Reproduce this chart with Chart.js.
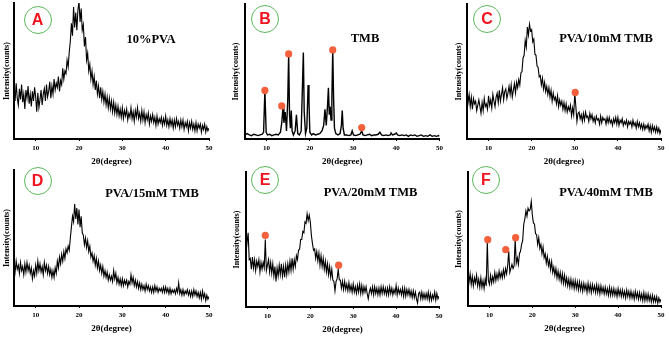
<!DOCTYPE html>
<html>
<head>
<meta charset="utf-8">
<script src="https://cdn.jsdelivr.net/npm/chart.js@4.4.0/dist/chart.umd.min.js"></script>
<style>
html, body { margin: 0; padding: 0; background: #fff; }
#fig { position: relative; width: 669px; height: 337px; overflow: hidden; background: #fff; }
.cell { position: absolute; }
.tag {
  position: absolute; box-sizing: border-box; width: 28px; height: 28px;
  border: 1.5px solid #5cb85c; border-radius: 50%;
  color: #f0141e; font: bold 16px 'Liberation Sans', Arial, sans-serif;
  text-align: center; line-height: 25px; transform: translate(-50%, -50%);
}
.name {
  position: absolute; white-space: nowrap; line-height: 1; color: #000;
  font: bold 12.5px 'Liberation Serif', 'Times New Roman', serif;
  transform: translate(-50%, -50%);
}
</style>
</head>
<body>
<div id="fig"></div>
<script>
'use strict'

// ************* Data ****************
// one group = one degree (x.00, x.25, x.50, x.75), from 5 to 50
let thetaStart = 5;
let thetaStep = 0.25;
let xTicks = [10, 20, 30, 40, 50];

// A - 10% PVA
let pvaCounts = [
  36,28,41,30, 25,37,29,40, 27,33,22,36, 30,39,26,33, 24,35,28,38,
  31,20,34,23, 29,36,25,33, 37,28,40,31, 35,42,30,39, 33,44,36,41,
  38,46,35,43, 40,52,44,50, 48,58,53,64, 72,85,76,97, 82,93,80,95,
  101,86,96,80, 84,68,75,58, 63,50,55,44, 50,40,46,36, 43,33,39,30,
  38,29,35,27, 33,25,31,23, 30,22,28,20, 27,19,25,18, 24,17,22,16,
  23,15,21,17, 22,14,19,16, 23,15,20,13, 21,16,23,15, 19,13,21,14,
  20,12,18,14, 19,11,17,13, 18,12,16,10, 17,11,15,12, 16,10,15,11,
  17,10,14,9, 15,10,14,8, 14,9,15,10, 13,8,14,9, 14,7,12,9,
  13,6,12,8, 13,7,11,6, 12,6,11,8, 11,5,10,7, 11,5,9,6,
  8];

// B - TMB (sharp peaks, own theta list)
let tmbTheta = [5,5.5,6,6.5,7,7.5,8,8.5,9,9.3,
  9.6,9.9,10.2,10.7,11.2,11.7,12.2,12.7,13.2,13.5,
  13.8,14.0,14.3,14.6,14.9,15.1,15.3,15.5,15.7,15.9,
  16.2,16.6,16.9,17.2,17.6,18.0,18.3,18.5,18.7,19.0,
  19.3,19.6,19.8,20.0,20.4,20.8,21.3,21.8,22.3,22.8,
  23.2,23.5,23.8,24.1,24.3,24.5,24.7,24.9,25.1,25.3,
  25.5,25.7,26.0,26.5,27.0,27.3,27.5,27.7,28.0,28.5,
  29.0,29.5,29.8,30.1,30.6,31.1,31.6,32.0,32.3,32.8,
  33.3,33.8,34.3,34.8,35.3,35.8,36.2,36.6,37.1,37.6,
  38.1,38.6,38.8,39.1,39.6,40.0,40.3,40.8,41.3,41.8,
  42.3,42.8,43.3,43.8,44.3,44.8,45.3,45.8,46.3,46.8,
  47.3,47.8,48.3,48.8,49.3,49.8,50];
let tmbCounts = [3,4,3,2.5,3.5,3,2.5,3,3.5,5,
  36,5,3,3.5,2.5,3,3.5,3,5,12,
  24,12,20,6,30,63,18,8,21,6,
  3,6,18,4,3,6,40,64,20,4,
  8,40,28,5,3,4,3,3.5,4,6,
  10,22,10,25,38,18,24,14,30,66,
  30,8,4,3,4,10,21,8,3,3,
  2.5,3,6,3,2.5,3,3.5,6,3,2.5,
  3,3.5,2.5,3,3,3.5,5,3,2.5,3,
  2.5,3,4.5,3,3.5,4.5,3,2.5,3,2.5,
  3,2,3,2.5,3,2,2.5,3,2,2.5,
  2,3,2,2.5,2,2.5,2];

// C - PVA/10mM TMB
let pva10Counts = [
  38,27,33,24, 31,22,30,26, 28,21,25,29, 24,19,27,21, 30,24,26,22,
  32,25,29,23, 33,28,24,31, 34,27,36,28, 33,38,29,35, 37,30,34,39,
  33,40,31,36, 41,34,42,38, 44,40,49,50, 60,62,73,68, 83,77,85,80,
  81,72,74,63, 62,54,53,46, 47,40,45,37, 42,35,39,33, 38,31,36,28,
  34,29,31,26, 32,24,29,25, 28,22,27,21, 26,20,24,21, 25,17,23,18,
  34,24,13,19, 20,15,18,13, 19,14,20,16, 17,13,19,15, 18,13,16,12,
  17,14,15,11, 17,12,16,14, 15,11,16,12, 16,12,14,10, 15,12,16,11,
  16,10,14,12, 15,10,13,11, 14,9,13,11, 13,9,14,10, 12,8,13,9,
  12,8,11,7, 11,7,10,8, 11,6,10,5, 10,6,9,5, 9,5,8,4,
  7];

// D - PVA/15mM TMB
let pva15Counts = [
  31,25,33,27, 30,24,32,26, 29,23,31,25, 32,26,30,24, 28,20,26,22,
  30,24,33,26, 31,25,29,23, 32,26,30,24, 29,23,27,21, 26,21,28,24,
  33,28,36,31, 38,33,40,35, 42,39,44,41, 50,58,66,62, 75,64,72,60,
  71,58,66,54, 52,45,50,43, 48,40,44,36, 39,33,37,30, 35,28,33,26,
  30,24,29,22, 26,21,25,19, 23,19,22,18, 26,20,24,17, 21,16,20,15,
  20,15,19,16, 19,14,18,16, 23,17,21,15, 19,14,18,13, 17,12,16,12,
  15,11,16,12, 15,11,14,10, 14,10,15,11, 14,10,13,11, 13,10,14,10,
  14,10,13,9, 13,9,12,10, 12,9,13,10, 17,9,12,8, 12,8,11,9,
  12,8,11,7, 11,7,12,8, 11,7,10,6, 10,5,11,6, 9,4,8,5,
  7];

// E - PVA/20mM TMB
let pva20Counts = [
  40,48,55,35, 36,28,37,29, 35,27,34,30, 35,26,33,28, 33,29,50,27,
  31,35,26,33, 25,32,23,30, 19,29,23,31, 24,32,23,30, 22,31,24,32,
  26,34,27,36, 28,35,30,38, 35,42,43,50, 50,56,55,63, 62,69,64,68,
  63,53,47,42, 43,36,41,34, 40,31,38,30, 36,28,34,26, 32,24,30,22,
  28,20,19,12, 19,21,28,20, 20,14,19,13, 19,13,17,12, 18,12,16,11,
  17,11,15,10, 16,11,17,10, 16,10,15,11, 15,10,6,11, 14,10,15,9,
  15,10,14,9, 14,9,15,10, 15,10,14,9, 14,9,15,10, 14,9,13,10,
  16,9,14,10, 13,9,14,8, 14,8,13,9, 13,8,12,7, 12,7,11,6,
  3,10,11,6, 11,6,10,6, 10,6,11,5, 10,5,9,6, 11,5,10,6,
  8];

// F - PVA/40mM TMB
let pva40Counts = [
  25,18,24,16, 22,15,21,17, 23,15,20,14, 21,14,19,13, 20,15,48,19,
  16,23,17,22, 18,25,19,24, 20,26,21,25, 21,27,22,28, 24,30,41,25,
  28,31,28,30, 50,32,36,31, 39,41,46,49, 61,65,71,67, 73,71,72,78,
  68,62,61,54, 53,46,51,43, 46,39,44,36, 39,32,37,30, 34,27,33,25,
  29,23,28,21, 26,20,25,18, 24,17,23,16, 21,15,20,14, 20,14,19,13,
  19,13,18,12, 18,12,17,11, 17,12,16,10, 17,11,16,10, 16,11,15,10,
  16,10,15,9, 15,10,14,9, 14,9,13,8, 14,8,13,8, 13,8,12,7,
  13,8,12,7, 12,7,11,6, 12,7,11,6, 11,6,10,5, 11,6,10,5,
  10,5,9,4, 10,4,9,4, 9,4,8,3, 8,3,7,3, 7,2,6,3,
  5];

// peak markers (orange dots)
let tmbPeakX = [9.6, 13.5, 15.1, 25.3, 32];
let tmbPeakY = [36, 24.5, 63, 66, 8.5];
let pva10PeakX = [30.1];
let pva10PeakY = [34.5];
let pva20PeakX = [9.5, 26.6];
let pva20PeakY = [53, 31];
let pva40PeakX = [9.6, 13.8, 16.1];
let pva40PeakY = [49.5, 42, 51];


// ************ Helpers **************
function gridTheta(n) {
  let arr = [];
  for (let i = 0; i < n; i++) {
    arr.push(thetaStart + i * thetaStep);
  }
  return arr;
}

function toPoints(xs, ys) {
  let pts = [];
  for (let i = 0; i < ys.length; i++) {
    pts.push({ x: xs[i], y: ys[i] });
  }
  return pts;
}

let serif = "'Liberation Serif', 'Times New Roman', serif";
let fig = document.getElementById('fig');

// layout of the six panels
let panels = [
  { tag: 'A', name: '10%PVA', x: gridTheta(pvaCounts.length), y: pvaCounts, px: [], py: [], lineW: 1.1,
    left: 0, top: 0, w: 223, h: 168, plotL: 14, plotR: 209, plotT: 3, plotB: 139, yTitleX: 7, xTitleY: 162,
    tagPos: [37.5, 20], namePos: [151, 39] },
  { tag: 'B', name: 'TMB', x: tmbTheta, y: tmbCounts, px: tmbPeakX, py: tmbPeakY, lineW: 1.4,
    left: 223, top: 0, w: 223, h: 168, plotL: 22, plotR: 217, plotT: 3, plotB: 139, yTitleX: 13, xTitleY: 162,
    tagPos: [265, 18.5], namePos: [365, 38] },
  { tag: 'C', name: 'PVA/10mM TMB', x: gridTheta(pva10Counts.length), y: pva10Counts, px: pva10PeakX, py: pva10PeakY, lineW: 1.1,
    left: 446, top: 0, w: 223, h: 168, plotL: 21, plotR: 215, plotT: 3, plotB: 139, yTitleX: 13, xTitleY: 162,
    tagPos: [487, 18.5], namePos: [606, 38] },
  { tag: 'D', name: 'PVA/15mM TMB', x: gridTheta(pva15Counts.length), y: pva15Counts, px: [], py: [], lineW: 1.1,
    left: 0, top: 168, w: 223, h: 169, plotL: 14, plotR: 209, plotT: 2, plotB: 138, yTitleX: 7, xTitleY: 161,
    tagPos: [37.5, 180.5], namePos: [152, 193] },
  { tag: 'E', name: 'PVA/20mM TMB', x: gridTheta(pva20Counts.length), y: pva20Counts, px: pva20PeakX, py: pva20PeakY, lineW: 1.1,
    left: 223, top: 168, w: 223, h: 169, plotL: 23, plotR: 216, plotT: 2, plotB: 139, yTitleX: 14, xTitleY: 162,
    tagPos: [265, 179.5], namePos: [370.5, 192] },
  { tag: 'F', name: 'PVA/40mM TMB', x: gridTheta(pva40Counts.length), y: pva40Counts, px: pva40PeakX, py: pva40PeakY, lineW: 1.1,
    left: 446, top: 168, w: 223, h: 169, plotL: 22, plotR: 215, plotT: 2, plotB: 138, yTitleX: 13, xTitleY: 161,
    tagPos: [486, 180], namePos: [606, 192] }
];


// ************ Render **************
function makePanel(p) {
  let canvas = document.createElement('canvas');
  canvas.className = 'cell';
  canvas.width = p.w;
  canvas.height = p.h;
  canvas.style.left = p.left + 'px';
  canvas.style.top = p.top + 'px';
  fig.appendChild(canvas);

  let padBottom = p.h - p.xTitleY - 5.4;

  new Chart(canvas, {
    type: 'line',
    data: {
      datasets: [{
        data: toPoints(p.px, p.py),
        showLine: false,
        pointRadius: 3.6,
        pointBackgroundColor: '#f4603c',
        pointBorderWidth: 0,
        order: 0
      }, {
        data: toPoints(p.x, p.y),
        borderColor: '#000',
        borderWidth: p.lineW,
        pointRadius: 0,
        tension: 0,
        order: 1
      }]
    },
    options: {
      responsive: false,
      animation: false,
      layout: { padding: { left: 0, top: p.plotT, right: p.w - p.plotR, bottom: padBottom } },
      plugins: { legend: { display: false }, tooltip: { enabled: false } },
      scales: {
        x: {
          type: 'linear',
          min: 5,
          max: 50,
          afterBuildTicks: function (s) { s.ticks = xTicks.map(v => ({ value: v })); },
          afterFit: function (s) { s.height = p.h - padBottom - p.plotB; },
          ticks: { color: '#000', padding: 3, maxRotation: 0, font: { family: serif, size: 7, weight: 'bold' } },
          grid: { display: true, drawOnChartArea: false, drawTicks: true, tickLength: 2, color: '#000' },
          border: { display: true, color: '#000', width: 2 },
          title: { display: true, text: '2θ(degree)', color: '#000', padding: 0,
            font: { family: serif, size: 9, weight: 'bold' } }
        },
        y: {
          min: 0,
          max: 100,
          ticks: { display: false },
          grid: { display: false },
          afterFit: function (s) { s.width = p.plotL; },
          border: { display: true, color: '#000', width: 2 },
          title: { display: true, text: 'Intensity(counts)', color: '#000',
            padding: { top: p.yTitleX - 4.8, bottom: 0 },
            font: { family: serif, size: 8, weight: 'bold' } }
        }
      }
    }
  });

  let tag = document.createElement('div');
  tag.className = 'tag';
  tag.textContent = p.tag;
  tag.style.left = p.tagPos[0] + 'px';
  tag.style.top = p.tagPos[1] + 'px';
  fig.appendChild(tag);

  let name = document.createElement('div');
  name.className = 'name';
  name.textContent = p.name;
  name.style.left = p.namePos[0] + 'px';
  name.style.top = p.namePos[1] + 'px';
  fig.appendChild(name);
}

for (let i = 0; i < panels.length; i++) {
  makePanel(panels[i]);
}
</script>
</body>
</html>
